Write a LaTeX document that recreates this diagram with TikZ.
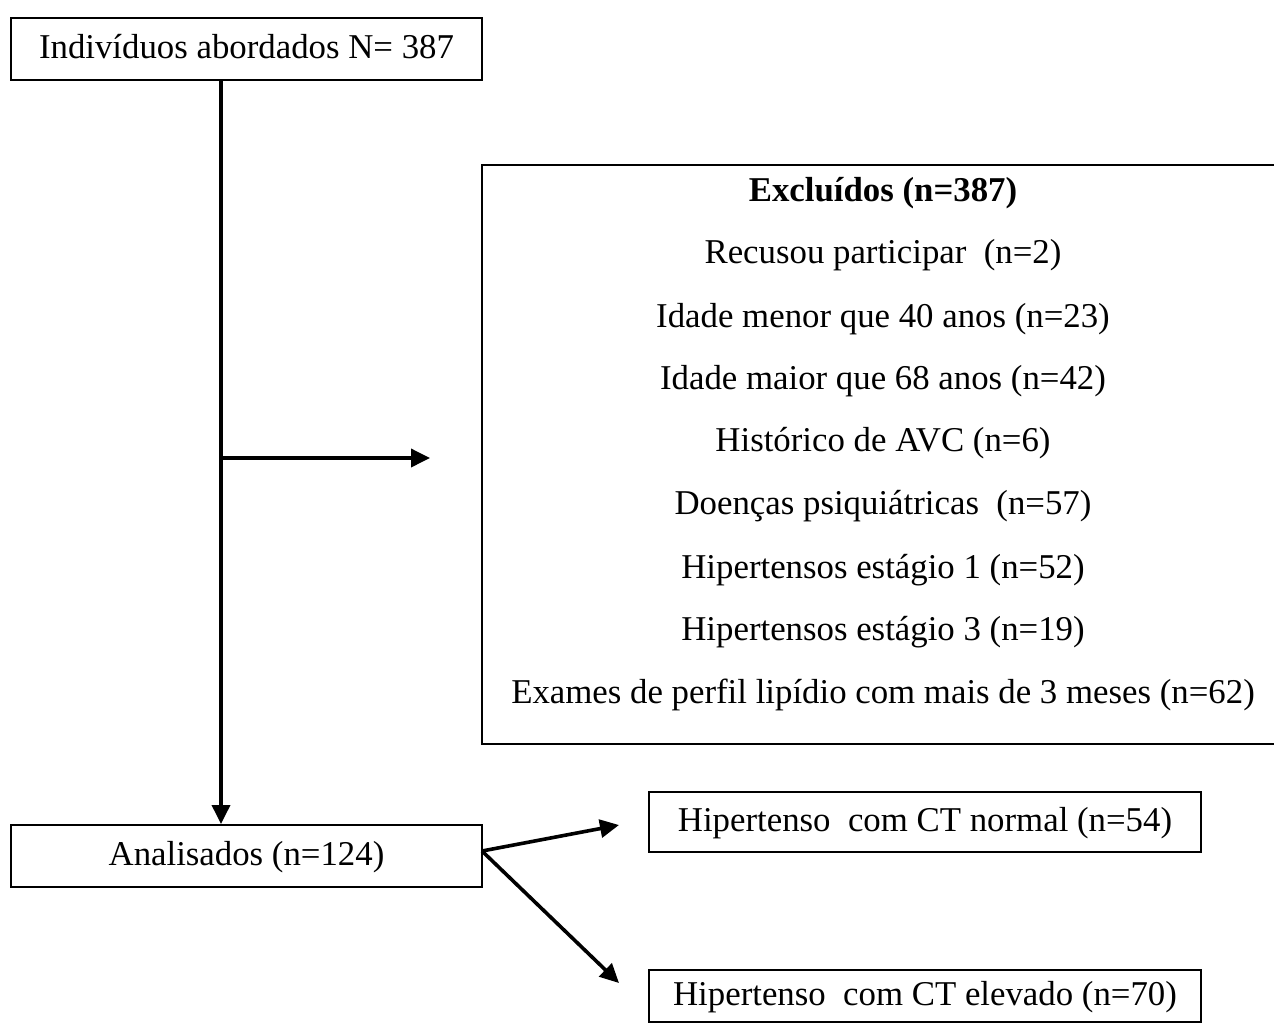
\documentclass[tikz,border=0pt]{standalone}
\usepackage{fontspec}
\setmainfont{Liberation Serif}
\usetikzlibrary{arrows.meta}
\begin{document}
\begin{tikzpicture}[x=0.5pt,y=-0.5pt,
  txt/.style={inner sep=0pt, font=\fontsize{17.4}{20}\selectfont, text height=1.0em, text depth=0.05em},
  box/.style={txt, draw, line width=1pt},
  conn/.style={line width=1.8pt, -{Triangle[length=9.5pt,width=9pt]}},
  frame/.style={line width=1pt},
]
\useasboundingbox (0,0) rectangle (1274,1024);

% boxes
\node[box, minimum width=235.5pt, minimum height=31pt] (top) at (246.5,49) {Indivíduos abordados N= 387};
\node[box, minimum width=235.5pt, minimum height=31pt] (ana) at (246.5,856) {Analisados (n=124)};
\node[box, minimum width=276pt, minimum height=30pt] (norm) at (925,822) {Hipertenso\enspace com CT normal (n=54)};
\node[box, minimum width=276pt, minimum height=26pt] (elev) at (925,996) {Hipertenso\enspace com CT elevado (n=70)};

% excluded box (open at right edge of picture)
\coordinate (exTL) at (482,165);
\coordinate (exBL) at (482,744);
\coordinate (exTR) at (1280,165);
\coordinate (exBR) at (1280,744);
\draw[frame] (exTR) -- (exTL) -- (exBL) -- (exBR);

\node[txt] (ex0) at (883,192) {\textbf{Excluídos (n=387)}};
\node[txt] (ex1) at (883,254) {Recusou participar\enspace(n=2)};
\node[txt] (ex2) at (883,318) {Idade menor que 40 anos (n=23)};
\node[txt] (ex3) at (883,380) {Idade maior que 68 anos (n=42)};
\node[txt] (ex4) at (883,442) {Histórico de AVC (n=6)};
\node[txt] (ex5) at (883,505) {Doenças psiquiátricas\enspace(n=57)};
\node[txt] (ex6) at (883,569) {Hipertensos estágio 1 (n=52)};
\node[txt] (ex7) at (883,631) {Hipertensos estágio 3 (n=19)};
\node[txt] (ex8) at (883,694) {Exames de perfil lipídio com mais de 3 meses (n=62)};

% connectors
\coordinate (junc) at (221,458);
\coordinate (extip) at (430,458);
\coordinate (ntip) at (619,825);
\coordinate (etip) at (619,983);
\coordinate (astart) at (482,851);

\draw[conn] (top.south -| junc) -- (ana.north -| junc);
\draw[conn] (junc) -- (extip);
\draw[conn] (astart) -- (ntip);
\draw[conn] (astart) -- (etip);
\end{tikzpicture}
\end{document}
